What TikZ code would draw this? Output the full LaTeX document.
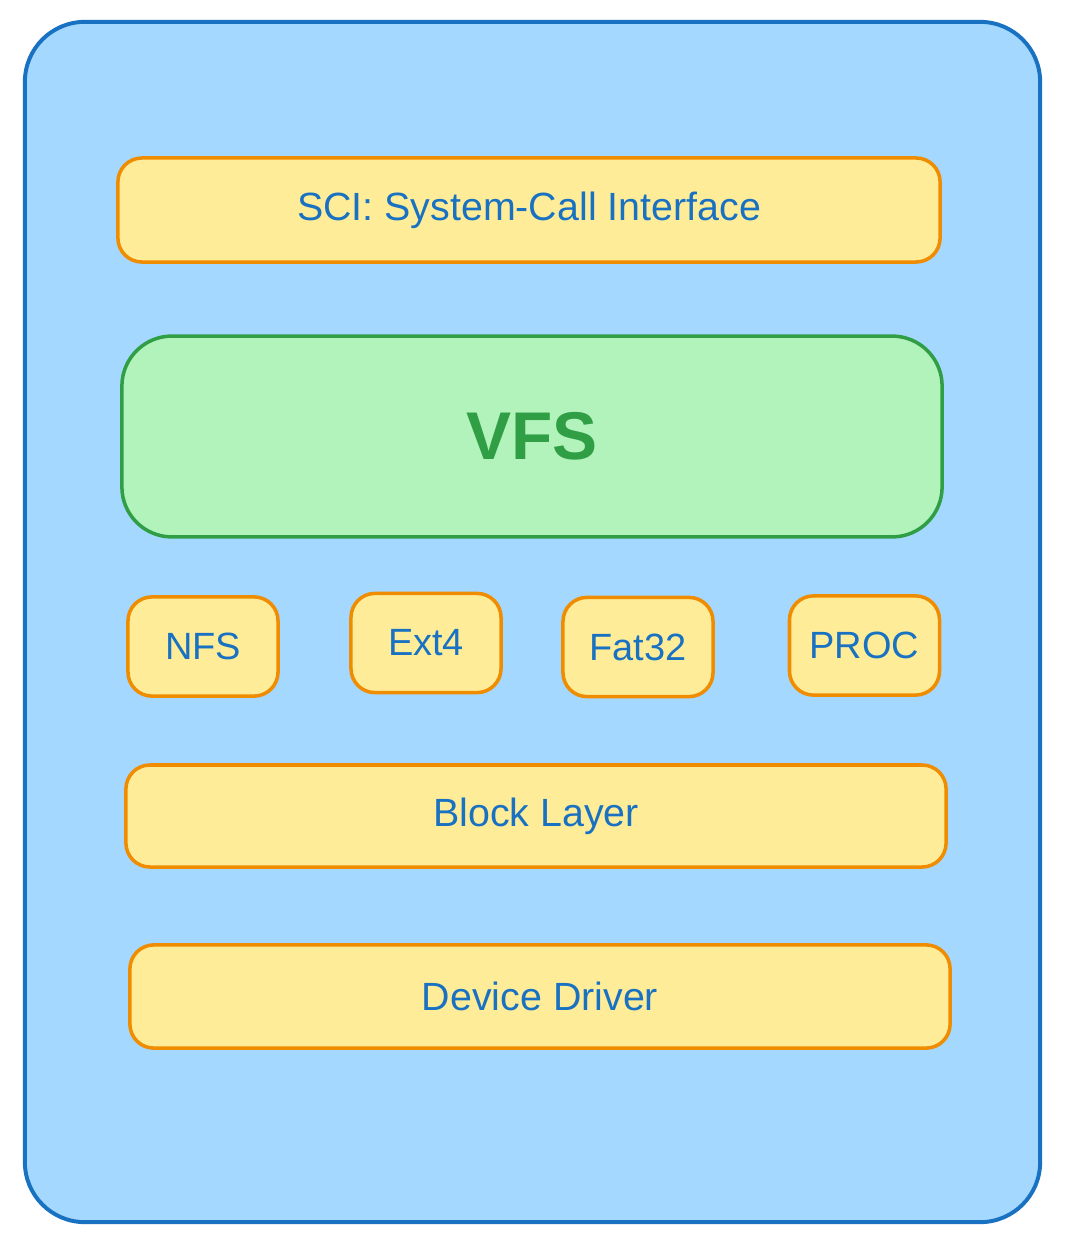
\documentclass[tikz,border=0pt]{standalone}
\usepackage{fontspec}
\setmainfont{Liberation Sans}
\usepackage{tikz}
\usetikzlibrary{positioning}

\definecolor{kernelfill}{HTML}{A5D8FF}
\definecolor{kernelline}{HTML}{1971C2}
\definecolor{layerfill}{HTML}{FFEC99}
\definecolor{layerline}{HTML}{F08C00}
\definecolor{vfsfill}{HTML}{B2F2BB}
\definecolor{vfsline}{HTML}{2F9E44}

\tikzset{
    layer/.style={rectangle, draw=layerline, fill=layerfill, line width=2.5pt,
        rounded corners=0.6cm, text=kernelline, font=\fontsize{28}{32}\selectfont,
        minimum width=20.5cm, minimum height=2.55cm},
    fsbox/.style={layer, font=\fontsize{27}{31}\selectfont, minimum width=3.75cm, minimum height=2.48cm}
}

\begin{document}
\begin{tikzpicture}[x=0.025cm, y=-0.025cm]
    \useasboundingbox (0,0) rectangle (1064,1240);

    % Kernel background
    \node (kernel) [rectangle, draw=kernelline, fill=kernelfill, line width=2.8pt,
        rounded corners=1.5cm, minimum width=25.375cm, minimum height=30cm] at (532.5,622) {};

    % Nodes
    \node (sci) [layer, minimum width=20.55cm, minimum height=2.6cm] at (529,210) {SCI: System-Call Interface};
    \node (vfs) [rectangle, draw=vfsline, fill=vfsfill, line width=2.5pt, rounded corners=1.25cm,
        minimum width=20.5cm, minimum height=5.02cm, text=vfsline,
        font=\fontsize{48}{54}\selectfont\bfseries] at (532,436.5) {VFS};
    \node (nfs) [fsbox] at (203,646.5) {NFS};
    \node (ext4) [fsbox] at (426,643) {Ext4};
    \node (fat32) [fsbox] at (638,647) {Fat32};
    \node (proc) [fsbox] at (864.5,645.5) {PROC};
    \node (block) [layer] at (536,816) {Block Layer};
    \node (driver) [layer, minimum height=2.58cm] at (540,996.5) {Device Driver};
\end{tikzpicture}
\end{document}
